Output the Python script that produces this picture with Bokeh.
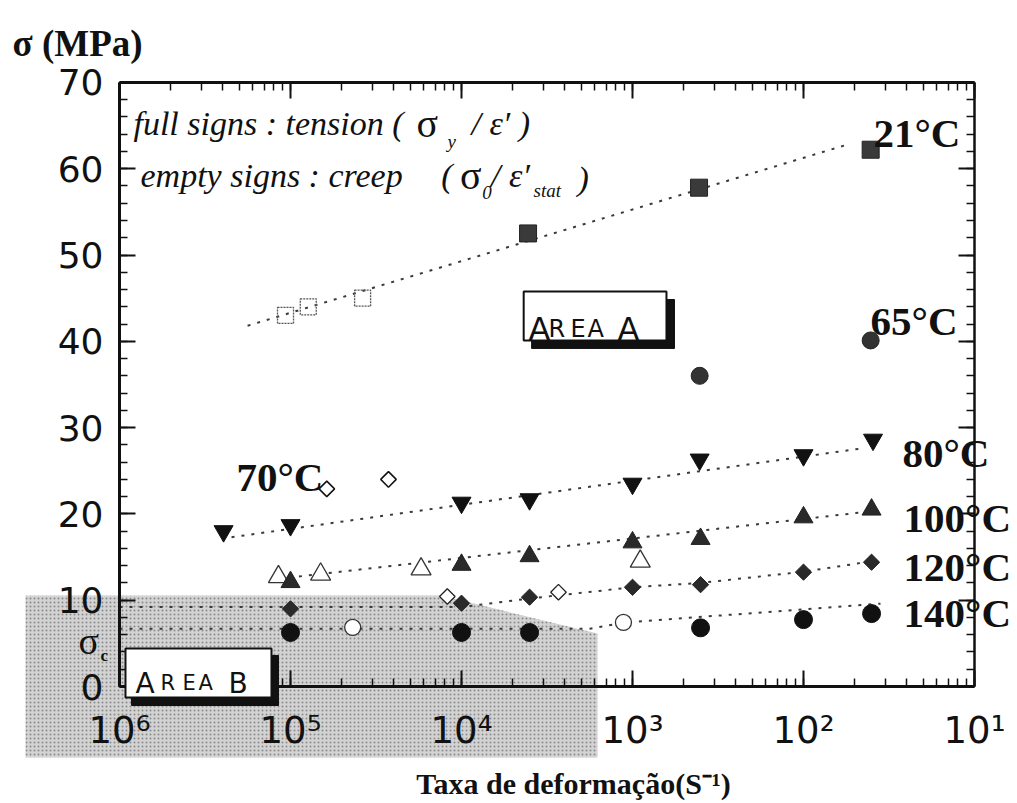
import math
from bokeh.plotting import figure
from bokeh.models import (Range1d, LogAxis, LinearAxis, LogTicker, SingleIntervalTicker,
                          CustomJSTickFormatter, Label, BoxAnnotation)
from bokeh.embed import file_html
from bokeh.resources import INLINE

# ---------------- data: strain rate (s^-1) vs stress (MPa) ----------------
x_tick_labels = ["10⁶", "10⁵", "10⁴", "10³", "10²", "10¹"]   # as printed, 1e-6 .. 1e-1

# 21 °C
x_21_tension = [2.45e-4, 2.45e-3, 2.47e-2]
y_21_tension = [52.5, 57.8, 62.2]
x_21_creep = [9.35e-6, 1.27e-5, 2.64e-5]
y_21_creep = [43.0, 44.0, 45.0]
x_21_fit = [5.61e-6, 1.88e-2]
y_21_fit = [41.8, 62.9]
# 65 °C
x_65_tension = [2.47e-3, 2.47e-2]
y_65_tension = [36.0, 40.1]
# 70 °C
x_70_creep = [1.63e-5, 3.74e-5]
y_70_creep = [22.9, 24.0]
# 80 °C
x_80_tension = [4.06e-6, 1e-5, 1e-4, 2.5e-4, 1e-3, 2.47e-3, 1e-2, 2.55e-2]
y_80_tension = [18.0, 18.7, 21.3, 21.7, 23.5, 26.3, 26.8, 28.6]
x_80_fit = [4.52e-6, 2.21e-2]
y_80_fit = [17.3, 27.6]
# 100 °C
x_100_tension = [1e-5, 1e-4, 2.5e-4, 1e-3, 2.5e-3, 1e-2, 2.5e-2]
y_100_tension = [12.1, 14.1, 15.1, 16.7, 17.1, 19.6, 20.5]
x_100_creep = [8.5e-6, 1.5e-5, 5.8e-5, 1.11e-3]
y_100_creep = [12.7, 13.0, 13.6, 14.5]
x_100_fit = [1.12e-5, 2.24e-2]
y_100_fit = [12.75, 20.2]
# 120 °C
x_120_tension = [1e-5, 1e-4, 2.5e-4, 1e-3, 2.5e-3, 1e-2, 2.5e-2]
y_120_tension = [9.0, 9.65, 10.35, 11.5, 11.8, 13.25, 14.4]
x_120_creep = [8.26e-5, 3.69e-4]
y_120_creep = [10.43, 10.93]
x_120_fit = [1e-6, 1e-4, 2.5e-4, 1e-3, 2.5e-3, 1e-2, 2.5e-2]
y_120_fit = [9.2, 9.2, 10.2, 11.5, 12.0, 13.3, 14.5]
# 140 °C
x_140_tension = [1e-5, 1e-4, 2.5e-4, 2.5e-3, 1e-2, 2.5e-2]
y_140_tension = [6.26, 6.26, 6.26, 6.8, 7.75, 8.45]
x_140_creep = [2.31e-5, 8.85e-4]
y_140_creep = [6.84, 7.42]
x_140_fit = [1e-6, 5.62e-4, 8.85e-4, 2.82e-2]
y_140_fit = [6.7, 6.7, 7.4, 9.6]

# Area B (shaded region)
area_b_x = [2.82e-7, 7.53e-5, 6.24e-4, 6.24e-4, 2.82e-7]
area_b_y = [10.54, 10.54, 6.14, -8.23, -8.23]

temp_labels = ["21°C", "65°C", "70°C", "80°C", "100°C", "120°C", "140°C"]
temp_label_x = [2.565e-2, 2.466e-2, 4.83e-6, 3.79e-2, 3.85e-2, 3.85e-2, 3.85e-2]
temp_label_y = [64.08, 42.41, 24.22, 27.11, 19.47, 13.79, 8.46]

# ---------------- figure (frame = whole canvas, axes at fixed locations) ----------------
X_MIN, X_MAX = 1e-6, 1e-1
Y_MIN, Y_MAX = 0, 70
p = figure(width=1017, height=803, x_axis_type="log", title=None,
           x_range=Range1d(2.014e-7, 0.1784), y_range=Range1d(-13.557, 79.49),
           output_backend="svg", toolbar_location=None,
           min_border_left=0, min_border_right=0, min_border_top=0, min_border_bottom=0)
p.outline_line_color = None
p.xgrid.visible = False
p.ygrid.visible = False
p.background_fill_color = "white"
p.border_fill_color = "white"

INK = "#111111"

def style_axis(ax):
    ax.axis_line_width = 3
    ax.axis_line_color = INK
    ax.major_tick_in = 16
    ax.major_tick_out = 0
    ax.minor_tick_in = 8
    ax.minor_tick_out = 0
    ax.major_tick_line_width = 2
    ax.minor_tick_line_width = 1.5
    ax.major_tick_line_color = INK
    ax.minor_tick_line_color = INK

xfmt = CustomJSTickFormatter(args=dict(labels=x_tick_labels),
                             code="const e = Math.round(Math.log10(tick)); return labels[e + 6] || '';")
blank = CustomJSTickFormatter(code="return '';")

xa = p.xaxis[0]
xa.ticker = LogTicker(num_minor_ticks=10, desired_num_ticks=8)
xa.formatter = xfmt
xa.fixed_location = Y_MIN
xa.bounds = (X_MIN, X_MAX)
style_axis(xa)
xa.major_label_text_font = "DejaVu Sans"
xa.major_label_text_font_size = "37px"
xa.major_label_text_color = INK
xa.major_label_standoff = 22

ya = p.yaxis[0]
ya.ticker = SingleIntervalTicker(interval=10, num_minor_ticks=5)
ya.fixed_location = X_MIN
ya.bounds = (Y_MIN, Y_MAX)
style_axis(ya)
ya.major_label_text_font = "DejaVu Sans"
ya.major_label_text_font_size = "36px"
ya.major_label_text_color = INK
ya.major_label_standoff = 16

top = LogAxis(ticker=LogTicker(num_minor_ticks=10, desired_num_ticks=8), formatter=blank,
              fixed_location=Y_MAX, bounds=(X_MIN, X_MAX))
style_axis(top)
top.major_label_standoff = 0
p.add_layout(top, "above")
right = LinearAxis(ticker=SingleIntervalTicker(interval=10, num_minor_ticks=5), formatter=blank,
                   fixed_location=X_MAX, bounds=(Y_MIN, Y_MAX))
style_axis(right)
right.axis_line_width = 2.5
right.major_label_standoff = 0
p.add_layout(right, "right")

# ---------------- shaded Area B ----------------
p.patch(area_b_x, area_b_y, fill_color="#d3d3d3", line_color=None,
        hatch_pattern="dot", hatch_color="#8a8a8a", hatch_scale=4, hatch_weight=1)

# ---------------- fit / guide lines ----------------
LINE = dict(line_color="#3a3a3a", line_width=2, line_dash="3 7")
p.line(x_21_fit, y_21_fit, **LINE)
p.line(x_80_fit, y_80_fit, **LINE)
p.line(x_100_fit, y_100_fit, **LINE)
p.line(x_120_fit, y_120_fit, **LINE)
p.line(x_140_fit, y_140_fit, **LINE)

# ---------------- markers ----------------
D45 = math.pi / 4
p.scatter(x_21_creep, y_21_creep, marker="square", size=16, fill_color=None,
          line_color="#555555", line_width=1.3, line_dash="2 1")
p.scatter(x_21_tension, y_21_tension, marker="square", size=17, fill_color="#3a3a3a", line_color="#222222")
p.scatter(x_65_tension, y_65_tension, marker="circle", size=17, fill_color="#333333", line_color="#222222")
p.scatter(x_70_creep, y_70_creep, marker="square", angle=D45, size=11, fill_color="white",
          line_color=INK, line_width=1.5)
p.scatter(x_80_tension, y_80_tension, marker="inverted_triangle", size=19, fill_color=INK, line_color=INK)
p.scatter(x_100_creep, y_100_creep, marker="triangle", size=20, fill_color="white",
          line_color="#333333", line_width=1.3)
p.scatter(x_100_tension, y_100_tension, marker="triangle", size=19, fill_color="#2a2a2a", line_color="#222222")
p.scatter(x_120_creep, y_120_creep, marker="square", angle=D45, size=11, fill_color="white",
          line_color="#222222", line_width=1.3)
p.scatter(x_120_tension, y_120_tension, marker="square", angle=D45, size=11.5, fill_color="#2a2a2a",
          line_color="#222222")
p.scatter(x_140_creep, y_140_creep, marker="circle", size=16, fill_color="white",
          line_color="#333333", line_width=1.3)
p.scatter(x_140_tension, y_140_tension, marker="circle", size=18, fill_color=INK, line_color=INK)

# ---------------- text ----------------
def lab(x, y, text, size, font="Liberation Serif", style="normal", align="left", level="annotation"):
    p.add_layout(Label(x=x, y=y, text=text, text_font=font, text_font_size=size,
                       text_font_style=style, text_align=align, text_baseline="alphabetic",
                       text_color=INK, level=level))

for t, tx, ty in zip(temp_labels, temp_label_x, temp_label_y):
    lab(tx, ty, t, "41px", style="bold")

# notes
lab(1.207e-6, 65.24, "full signs : tension (", "34px", style="italic")
lab(5.46e-5, 65.24, "σ", "40px")
lab(8.28e-5, 63.15, "y", "19px", style="italic")
lab(1.143e-4, 65.24, "/ ε′ )", "34px", style="italic")
lab(1.327e-6, 59.21, "empty signs  : creep", "34px", style="italic")
lab(7.6e-5, 59.21, "(", "34px", style="italic")
lab(9.8e-5, 59.21, "σ", "40px")
lab(1.32e-4, 57.24, "0", "19px", style="italic")
lab(1.49e-4, 59.21, "/ ε′", "34px", style="italic")
lab(2.637e-4, 57.47, "stat", "19px", style="italic")
lab(4.76e-4, 58.86, ")", "34px", style="italic")

# sigma_c on the left axis
lab(5.75e-7, 5.33, "σ", "38px")
lab(7.74e-7, 3.59, "c", "17px", style="bold")

# axis titles
lab(2.37e-7, 74.5, "σ (MPa)", "37px", style="bold")
lab(4.52e-4, -11.2, "Taxa de deformação(S⁻¹)", "30px", style="bold", align="center")

# ---------------- Area boxes ----------------
def area_box(l, r, t, b, sl, sr, st, sb):
    p.add_layout(BoxAnnotation(left=sl, right=sr, top=st, bottom=sb, fill_color=INK, fill_alpha=1.0,
                               line_color=INK, line_alpha=1.0, level="overlay"))
    p.add_layout(BoxAnnotation(left=l, right=r, top=t, bottom=b, fill_color="white", fill_alpha=1.0,
                               line_color=INK, line_alpha=1.0, line_width=2, level="overlay"))

area_box(2.31e-4, 1.58e-3, 45.77, 40.09, 2.57e-4, 1.76e-3, 44.84, 39.17)
area_box(1.084e-6, 7.74e-6, 4.40, -1.27, 1.175e-6, 8.51e-6, 3.59, -2.20)

area_a_letters = ["A", "R", "E", "A", "A"]
area_a_x = [2.466e-4, 3.23e-4, 4.34e-4, 5.45e-4, 8.17e-4]
area_a_size = ["32px", "24px", "24px", "24px", "32px"]
for t, tx, s in zip(area_a_letters, area_a_x, area_a_size):
    lab(tx, 41.48, t, s, font="DejaVu Sans", level="overlay")

area_b_letters = ["A", "R", "E", "A", "B"]
area_b_lx = [1.241e-6, 1.738e-6, 2.335e-6, 2.896e-6, 4.34e-6]
area_b_size = ["28px", "21px", "21px", "21px", "28px"]
for t, tx, s in zip(area_b_letters, area_b_lx, area_b_size):
    lab(tx, 0.35, t, s, font="DejaVu Sans", level="overlay")

open("out.html", "w").write(file_html(p, INLINE))
